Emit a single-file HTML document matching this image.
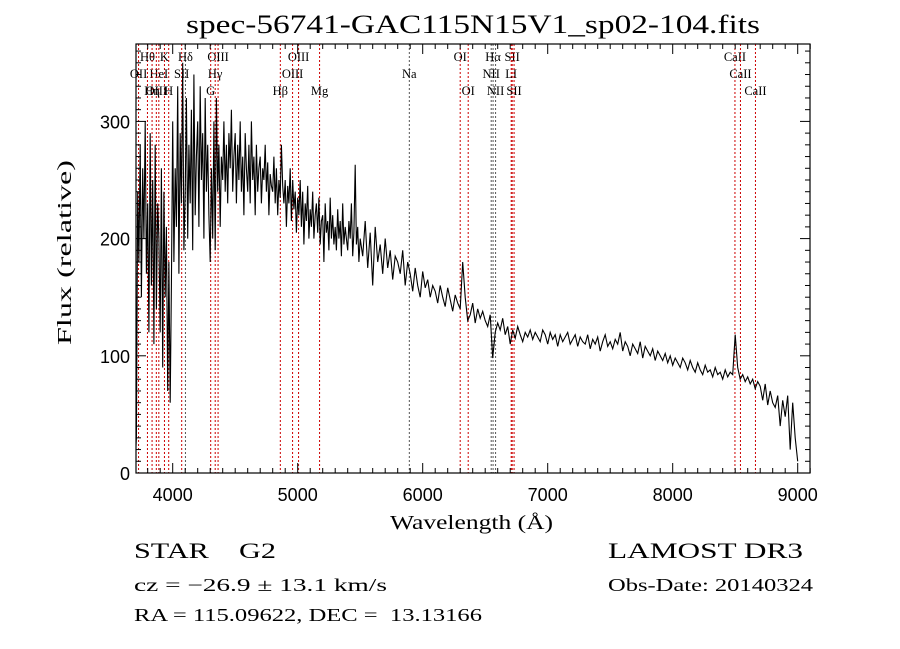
<!DOCTYPE html>
<html><head><meta charset="utf-8"><style>
html,body{margin:0;padding:0;background:#fff;}
svg{display:block;}
text{font-family:"Liberation Serif",serif;fill:#000;white-space:pre;}
.tk{font-family:"Liberation Sans",sans-serif;font-size:18px;}
.ln{font-size:12.5px;}
</style></head><body>
<svg id="chart" width="900" height="649" viewBox="0 0 900 649" xmlns="http://www.w3.org/2000/svg" xml:space="preserve">
<rect width="900" height="649" fill="#fff"/>
<text x="186" y="33" font-size="26" textLength="574" lengthAdjust="spacingAndGlyphs">spec-56741-GAC115N15V1_sp02-104.fits</text>
<defs><clipPath id="pc"><rect x="136" y="44" width="674" height="429"/></clipPath></defs>
<g id="lines"></g>
<g id="spec" clip-path="url(#pc)"></g>
<rect x="136" y="44" width="674" height="429" fill="none" stroke="#000" stroke-width="1.2"/>
<g id="ticks"></g>
<text transform="translate(71,345) rotate(-90)" font-size="20" textLength="185" lengthAdjust="spacingAndGlyphs">Flux (relative)</text>
<text x="390" y="529" font-size="20" textLength="163" lengthAdjust="spacingAndGlyphs">Wavelength (Å)</text>
<text x="134" y="558" font-size="22" textLength="142" lengthAdjust="spacingAndGlyphs">STAR    G2</text>
<text x="608" y="558" font-size="22" textLength="195" lengthAdjust="spacingAndGlyphs">LAMOST DR3</text>
<text x="134" y="591" font-size="18" textLength="253" lengthAdjust="spacingAndGlyphs">cz = −26.9 ± 13.1 km/s</text>
<text x="608" y="591" font-size="18" textLength="205" lengthAdjust="spacingAndGlyphs">Obs-Date: 20140324</text>
<text x="134" y="621" font-size="18" textLength="348" lengthAdjust="spacingAndGlyphs">RA = 115.09622, DEC =  13.13166</text>
</svg>
<script>
const blueStart = 3700;
const blueStep = 10;
const blueFlux = [
10,30,240,180,280,150,260,200,300,170,
230,120,290,160,250,110,280,140,230,200,
120,260,90,240,150,210,70,180,60,160,
300,180,260,210,330,170,290,230,350,190,
240,320,200,280,230,310,190,340,220,270,
300,210,330,250,290,200,320,240,280,220,
180,260,200,300,190,320,240,280,210,270,
250,300,240,280,230,290,260,310,240,270,
290,230,280,250,300,240,270,220,290,260,
240,280,230,300,250,270,220,280,240,260,
270,230,260,250,280,240,265,220,255,245,
240,270,230,260,220,250,235,280,245,230,
250,210,245,230,260,215,250,225,240,205,
235,220,250,210,240,195,230,215,245,200,
225,210,240,200,220,230,205,235,195,215,
220,180,230,205,215,190,235,200,220,195,
210,190,225,200,215,185,230,195,210,200,
190,215,200,230,185,205,263,195,210,180];
const redStart = 5500;
const redStep = 20;
const redFlux = [
200,185,215,175,205,160,210,180,195,170,
200,175,190,165,185,180,170,190,160,180,
170,155,175,160,150,172,158,165,150,160,
155,145,160,150,142,158,148,138,152,145,
140,180,150,130,135,145,128,140,132,138,
130,125,135,98,120,128,122,132,118,125,
110,122,115,125,118,112,120,116,122,114,
120,116,112,122,118,110,120,114,118,108,
118,112,116,120,110,114,118,108,116,112,
110,118,106,114,110,116,104,112,118,108,
112,106,114,110,120,104,112,108,100,110,
106,102,112,98,108,104,100,106,96,104,
100,96,102,94,100,92,98,94,90,98,
94,88,96,90,86,94,88,84,92,86,
88,82,90,84,86,80,88,82,86,84,
118,90,80,84,78,82,76,80,72,78,
74,62,76,58,70,60,56,66,40,62,
48,66,20,60,30,10];
const lineWaves = [3798,3934,4102,4363,5007,6300,6563,6716,8498,
 3727,3889,4072,4340,4959,5893,6548,6708,8542,
 3869,3835,3968,4304,4861,5175,6364,6583,6731,8662];
const lineLabels = ["Hθ","K","Hδ","OIII","OIII","OI","Hα","SII","CaII",
 "OII","HeI","SII","Hγ","OIII","Na","NII","LI","CaII",
 "OIII","Hη","H","G","Hβ","Mg","OI","NII","SII","CaII"];
const lineRows = [0,0,0,0,0,0,0,0,0, 1,1,1,1,1,1,1,1,1, 2,2,2,2,2,2,2,2,2,2];
const lineGray = ["Hδ","Na","Hα","NII"];
const xTicks = [4000,5000,6000,7000,8000,9000];
const yTicks = [0,100,200,300];

const NS="http://www.w3.org/2000/svg";
const X0=136,X1=810,Y0=44,Y1=473;
function xs(w){return 172.7+(w-4000)*0.125;}
function ys(v){return 473-v*1.172;}
function mk(t,a,p){const e=document.createElementNS(NS,t);for(const k in a)e.setAttribute(k,a[k]);p.appendChild(e);return e;}

const spec=document.getElementById('spec');
const P=[];
blueFlux.forEach((v,i)=>P.push(xs(blueStart+i*blueStep).toFixed(1)+","+ys(v).toFixed(1)));
redFlux.forEach((v,i)=>P.push(xs(redStart+i*redStep).toFixed(1)+","+ys(v).toFixed(1)));
const pl=mk('polyline',{points:P.join(" "),fill:'none',stroke:'#000','stroke-width':1.1,'stroke-linejoin':'miter'},spec);



const lg=document.getElementById('lines');
lineWaves.forEach((w,i)=>{
  const x=xs(w);
  const gray=lineGray.includes(lineLabels[i]);
  const l=mk('line',{x1:x,x2:x,y1:Y0,y2:Y1,stroke:gray?'#555':'#c00','stroke-width':1,'stroke-dasharray':'2,2'},lg);
  
  
  const t=mk('text',{x:x,y:61+lineRows[i]*17,'text-anchor':'middle',class:'ln'},lg);
  t.textContent=lineLabels[i];
  
  
});

const tg=document.getElementById('ticks');
for(let w=3800;w<=9100;w+=100){
  const x=xs(w);const maj=w%1000===0;const L=maj?10:5;
  mk('line',{x1:x,x2:x,y1:Y1,y2:Y1-L,stroke:'#000'},tg);
  mk('line',{x1:x,x2:x,y1:Y0,y2:Y0+L,stroke:'#000'},tg);
}
xTicks.forEach(w=>{
  const t=mk('text',{x:xs(w),y:501,'text-anchor':'middle',class:'tk'},tg);
  t.textContent=w;
  
  
});
for(let v=0;v<=360;v+=10){
  const y=ys(v);const maj=v%100===0;const L=maj?10:5;
  mk('line',{x1:X0,x2:X0+L,y1:y,y2:y,stroke:'#000'},tg);
  mk('line',{x1:X1,x2:X1-L,y1:y,y2:y,stroke:'#000'},tg);
}
yTicks.forEach(v=>{
  const t=mk('text',{x:130,y:ys(v)+7,'text-anchor':'end',class:'tk'},tg);
  t.textContent=v;
  
  
});
</script>
</body></html>
